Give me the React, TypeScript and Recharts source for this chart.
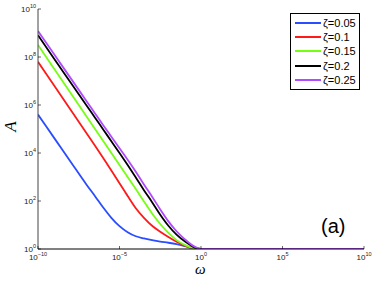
import React from 'react';
import { LineChart, Line, XAxis, YAxis, Legend } from 'recharts';

// log10(omega) sample points
const omegaExp = [-10, -9, -8, -7, -6.5, -6, -5.5, -5, -4.5, -4, -3.5, -3, -2.5, -2, -1.5, -1, -0.5, 0, 5, 10];

// log10(A) for each zeta
const zeta005 = [5.6, 4.62, 3.64, 2.66, 2.2, 1.73, 1.3, 0.95, 0.7, 0.53, 0.44, 0.37, 0.31, 0.26, 0.2, 0.12, 0.03, 0, 0, 0];
const zeta01 = [7.8, 6.8, 5.8, 4.8, 4.3, 3.79, 3.27, 2.74, 2.21, 1.7, 1.3, 0.97, 0.72, 0.5, 0.3, 0.14, 0.04, 0, 0, 0];
const zeta015 = [8.5, 7.5, 6.5, 5.5, 5.0, 4.5, 4.0, 3.5, 3.0, 2.5, 1.98, 1.48, 1.04, 0.67, 0.37, 0.17, 0.04, 0, 0, 0];
const zeta02 = [8.91, 7.92, 6.94, 5.96, 5.47, 4.98, 4.49, 4.0, 3.5, 2.98, 2.45, 1.95, 1.43, 0.97, 0.6, 0.32, 0.1, 0, 0, 0];
const zeta025 = [9.08, 8.1, 7.12, 6.14, 5.65, 5.16, 4.68, 4.2, 3.72, 3.22, 2.69, 2.18, 1.65, 1.15, 0.74, 0.41, 0.14, 0, 0, 0];

const seriesNames = ['ζ=0.05', 'ζ=0.1', 'ζ=0.15', 'ζ=0.2', 'ζ=0.25'];
const seriesColors = ['#2a4dff', '#ff1a1a', '#77ff11', '#000000', '#b04bff'];
const seriesValues = [zeta005, zeta01, zeta015, zeta02, zeta025];

const xTickExp = [-10, -5, 0, 5, 10];
const yTickExp = [0, 2, 4, 6, 8, 10];

const data = omegaExp.map((e, i) => {
  const row: Record<string, number> = { w: Math.pow(10, e) };
  seriesValues.forEach((s, k) => {
    row['s' + k] = Math.pow(10, s[i]);
  });
  return row;
});

const FONT = '"Liberation Sans", Arial, sans-serif';

const expOf = (v: number) => Math.round(Math.log10(v));

const BottomTick = (props: any) => {
  const { x, y, payload } = props;
  const e = expOf(payload.value);
  return (
    <g>
      <line x1={x} x2={x} y1={y} y2={y - 3} stroke="#000" strokeWidth={0.6} />
      <text x={x} y={y + 11} textAnchor="middle" fontFamily={FONT} fontSize={8} fill="#222">
        10
        <tspan dy={-4} fontSize={5.5}>{e < 0 ? '\u2212' + -e : e}</tspan>
      </text>
    </g>
  );
};

const LeftTick = (props: any) => {
  const { x, y, payload } = props;
  const e = expOf(payload.value);
  return (
    <g>
      <line x1={x} x2={x + 3} y1={y} y2={y} stroke="#000" strokeWidth={0.6} />
      <text x={x - 2} y={y + 3} textAnchor="end" fontFamily={FONT} fontSize={8} fill="#222">
        10
        <tspan dy={-4} fontSize={5.5}>{e}</tspan>
      </text>
    </g>
  );
};

const TopTick = (props: any) => {
  const { x, y } = props;
  return <line x1={x} x2={x} y1={y} y2={y + 3} stroke="#000" strokeWidth={0.6} />;
};

const RightTick = (props: any) => {
  const { x, y } = props;
  return <line x1={x} x2={x - 3} y1={y} y2={y} stroke="#000" strokeWidth={0.6} />;
};

const LegendBox = (props: any) => {
  const { payload } = props;
  return (
    <div
      style={{
        border: '1px solid #000',
        background: '#fff',
        padding: '2px 3px 2px 4px',
        fontFamily: FONT,
        fontSize: 11,
      }}
    >
      {(payload || []).map((p: any) => (
        <div key={p.value} style={{ display: 'flex', alignItems: 'center', height: 14.2 }}>
          <span style={{ display: 'inline-block', width: 26, height: 2, background: p.color, marginRight: 2 }} />
          <span style={{ color: '#000' }}>{p.value}</span>
        </div>
      ))}
    </div>
  );
};

export default function App() {
  return (
    <div style={{ position: 'absolute', left: 0, top: 0, width: 374, height: 281, background: '#fff' }}>
      <LineChart width={374} height={281} data={data} margin={{ top: 9, right: 10, left: 0, bottom: 0 }}>
        <XAxis
          xAxisId="b"
          dataKey="w"
          type="number"
          scale="log"
          domain={[1e-10, 1e10]}
          allowDataOverflow
          ticks={xTickExp.map((e) => Math.pow(10, e))}
          interval={0}
          tick={<BottomTick />}
          tickSize={0}
          tickMargin={0}
          tickLine={false}
          axisLine={{ stroke: '#000', strokeWidth: 1 }}
          height={32}
        />
        <XAxis
          xAxisId="t"
          dataKey="w"
          type="number"
          scale="log"
          orientation="top"
          domain={[1e-10, 1e10]}
          allowDataOverflow
          ticks={xTickExp.map((e) => Math.pow(10, e))}
          interval={0}
          tick={<TopTick />}
          tickSize={0}
          tickMargin={0}
          tickLine={false}
          axisLine={{ stroke: '#000', strokeWidth: 1 }}
          height={0}
        />
        <YAxis
          yAxisId="l"
          type="number"
          scale="log"
          domain={[1, 1e10]}
          allowDataOverflow
          ticks={yTickExp.map((e) => Math.pow(10, e))}
          interval={0}
          tick={<LeftTick />}
          tickSize={0}
          tickMargin={0}
          tickLine={false}
          axisLine={{ stroke: '#444', strokeWidth: 1 }}
          width={38}
        />
        <YAxis
          yAxisId="r"
          type="number"
          scale="log"
          orientation="right"
          domain={[1, 1e10]}
          allowDataOverflow
          ticks={yTickExp.map((e) => Math.pow(10, e))}
          interval={0}
          tick={<RightTick />}
          tickSize={0}
          tickMargin={0}
          tickLine={false}
          axisLine={{ stroke: '#000', strokeWidth: 1 }}
          width={0}
        />
        <Legend
          layout="horizontal"
          verticalAlign="middle"
          align="center"
          content={<LegendBox />}
          wrapperStyle={{ position: 'absolute', left: 290, top: 13, width: 'auto', height: 'auto' }}
        />
        {seriesNames.map((name, k) => (
          <Line
            key={name}
            xAxisId="b"
            yAxisId="l"
            dataKey={'s' + k}
            name={name}
            type="monotone"
            stroke={seriesColors[k]}
            strokeWidth={1.8}
            dot={false}
            isAnimationActive={false}
          />
        ))}
      </LineChart>
      <div
        style={{
          position: 'absolute',
          left: 5,
          top: 118,
          fontFamily: '"Liberation Serif", serif',
          fontStyle: 'italic',
          fontSize: 17,
          transform: 'rotate(-90deg)',
          lineHeight: '17px',
        }}
      >
        A
      </div>
      <div
        style={{
          position: 'absolute',
          left: 195,
          top: 264,
          fontFamily: '"Liberation Serif", serif',
          fontStyle: 'italic',
          fontSize: 15,
          lineHeight: '10px',
        }}
      >
        ω
      </div>
      <div
        style={{
          position: 'absolute',
          left: 321,
          top: 214,
          fontFamily: FONT,
          fontSize: 20,
          lineHeight: '24px',
        }}
      >
        (a)
      </div>
    </div>
  );
}
